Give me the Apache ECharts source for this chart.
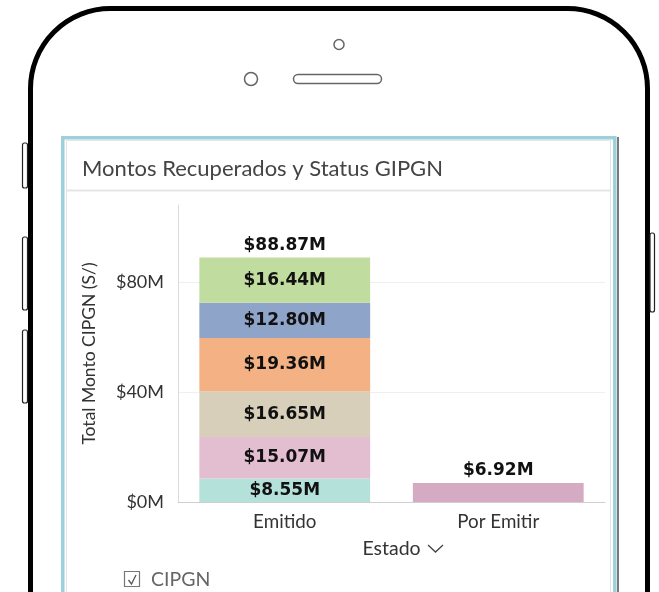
<!DOCTYPE html>
<html>
<head>
<meta charset="utf-8">
<style>
html,body{margin:0;padding:0;background:#fff;}
#c{width:659px;height:592px;}
</style>
<script src="https://cdn.jsdelivr.net/npm/echarts@6/dist/echarts.min.js"></script>
</head>
<body>
<div id="c"></div>
<script>
// ---- data ----
const categories = ['Emitido', 'Por Emitir'];
const segmentNames = ['S1', 'S2', 'S3', 'S4', 'S5', 'S6'];
const seg1 = [8.55, null];
const seg2 = [15.07, 6.92];
const seg3 = [16.65, null];
const seg4 = [19.36, null];
const seg5 = [12.80, null];
const seg6 = [16.44, null];
const totals = [88.87, 6.92];
const yTickLabels = ['$0M', '$40M', '$80M'];
const segments = [seg1, seg2, seg3, seg4, seg5, seg6];
const segColors = [
  ['#b4e1da', '#b4e1da'],
  ['#e3bed1', '#d5abc4'],
  ['#d7cfb9', '#d7cfb9'],
  ['#f4b183', '#f4b183'],
  ['#8fa4c9', '#8fa4c9'],
  ['#c1dc9f', '#c1dc9f']
];
const labelFont = {fontFamily: 'DejaVu Sans', fontWeight: 'bold', fontSize: 17, color: '#111', textBorderWidth: 0};

const series = segments.map(function (arr, si) {
  return {
    name: segmentNames[si],
    type: 'bar',
    stack: 'total',
    barWidth: '80%',
    data: arr.map(function (v, i) {
      return {
        value: v,
        itemStyle: {color: segColors[si][i]},
        label: {show: i === 0}
      };
    }),
    label: Object.assign({
      show: true,
      position: 'inside',
      formatter: function (p) { return '$' + p.value.toFixed(2) + 'M'; }
    }, labelFont)
  };
});
series.push({
  name: 'Total',
  type: 'scatter',
  symbol: 'circle',
  symbolSize: 0.01,
  itemStyle: {color: '#ffffff', opacity: 1},
  data: totals,
  label: Object.assign({
    show: true,
    position: 'top',
    distance: 4,
    formatter: function (p) { return '$' + p.value.toFixed(2) + 'M'; }
  }, labelFont),
  z: 5
});

const chart = echarts.init(document.getElementById('c'), null, {renderer: 'canvas'});
chart.setOption({
  animation: false,
  backgroundColor: '#fff',
  title: {
    text: 'Montos Recuperados y Status GIPGN',
    left: 77, top: 153,
    textStyle: {fontFamily: 'Lato', fontSize: 22, fontWeight: 'normal', color: '#444'}
  },
  grid: {left: 178, right: 54, top: 205, bottom: 90},
  xAxis: {
    type: 'category',
    data: categories,
    name: 'Estado',
    nameLocation: 'middle',
    nameGap: 37,
    nameTextStyle: {fontFamily: 'Lato', fontSize: 19.5, color: '#333'},
    axisLine: {lineStyle: {color: '#cfcfcf', width: 1}},
    axisTick: {show: false},
    axisLabel: {fontFamily: 'Lato', fontSize: 18.8, color: '#333', margin: 10}
  },
  yAxis: {
    type: 'value',
    min: 0, max: 108, interval: 40,
    name: 'Total Monto CIPGN (S/)',
    nameLocation: 'middle',
    nameRotate: 90,
    nameGap: 80,
    nameTextStyle: {fontFamily: 'Lato', fontSize: 17.5, color: '#333'},
    axisLine: {show: true, lineStyle: {color: '#dcdcdc', width: 1}},
    axisTick: {show: false},
    axisLabel: {
      fontFamily: 'Lato', fontSize: 18, color: '#333', margin: 14,
      showMaxLabel: false,
      formatter: function (v) { return yTickLabels[v / 40] || ''; }
    },
    splitLine: {show: true, showMaxLine: false, lineStyle: {color: '#efefef', width: 1}}
  },
  series: series,
  graphic: [
    // phone frame
    {type: 'rect', shape: {x: 30.5, y: 8.5, width: 617, height: 760, r: 80},
     style: {fill: 'none', stroke: '#000', lineWidth: 5}, silent: true},
    // side buttons
    {type: 'rect', shape: {x: 22.5, y: 143, width: 5, height: 45, r: 2}, style: {fill: '#fff', stroke: '#222', lineWidth: 1.2}},
    {type: 'rect', shape: {x: 22.5, y: 237, width: 5, height: 73, r: 2}, style: {fill: '#fff', stroke: '#222', lineWidth: 1.2}},
    {type: 'rect', shape: {x: 22.5, y: 330, width: 5, height: 73, r: 2}, style: {fill: '#fff', stroke: '#222', lineWidth: 1.2}},
    {type: 'rect', shape: {x: 650, y: 233, width: 4.5, height: 79, r: 2}, style: {fill: '#fff', stroke: '#222', lineWidth: 1.2}},
    // camera / speaker
    {type: 'circle', shape: {cx: 339, cy: 44.5, r: 5}, style: {fill: 'none', stroke: '#666', lineWidth: 1.5}},
    {type: 'circle', shape: {cx: 251, cy: 79, r: 6.5}, style: {fill: 'none', stroke: '#666', lineWidth: 1.5}},
    {type: 'rect', shape: {x: 293.5, y: 74.5, width: 88, height: 9, r: 4.5}, style: {fill: 'none', stroke: '#666', lineWidth: 1.5}},
    // card
    {type: 'rect', shape: {x: 62.8, y: 137.8, width: 552, height: 500}, style: {fill: 'none', stroke: '#9ed0dc', lineWidth: 3.5}},
    {type: 'rect', shape: {x: 66.5, y: 140.5, width: 544, height: 500}, style: {fill: 'none', stroke: '#e4e4e4', lineWidth: 1}},
    {type: 'line', shape: {x1: 618, y1: 137, x2: 618, y2: 592}, style: {stroke: '#7a7a7a', lineWidth: 2}},
    {type: 'line', shape: {x1: 67, y1: 190.5, x2: 610, y2: 190.5}, style: {stroke: '#e6e6e6', lineWidth: 2}},
    // x-axis name chevron
    {type: 'polyline', shape: {points: [[428, 545], [435.5, 552], [443, 545]]}, style: {fill: 'none', stroke: '#444', lineWidth: 1.3}},
    // legend checkbox
    {type: 'rect', shape: {x: 124.5, y: 571.5, width: 15, height: 15}, style: {fill: 'none', stroke: '#777', lineWidth: 1.2}},
    {type: 'polyline', shape: {points: [[128.5, 580], [131.5, 584], [136, 575]]}, style: {fill: 'none', stroke: '#555', lineWidth: 1.3}},
    {type: 'text', x: 151, y: 580, style: {text: 'CIPGN', fontFamily: 'Lato', fontSize: 19.5, fill: '#666', verticalAlign: 'middle'}}
  ]
});
</script>
</body>
</html>
